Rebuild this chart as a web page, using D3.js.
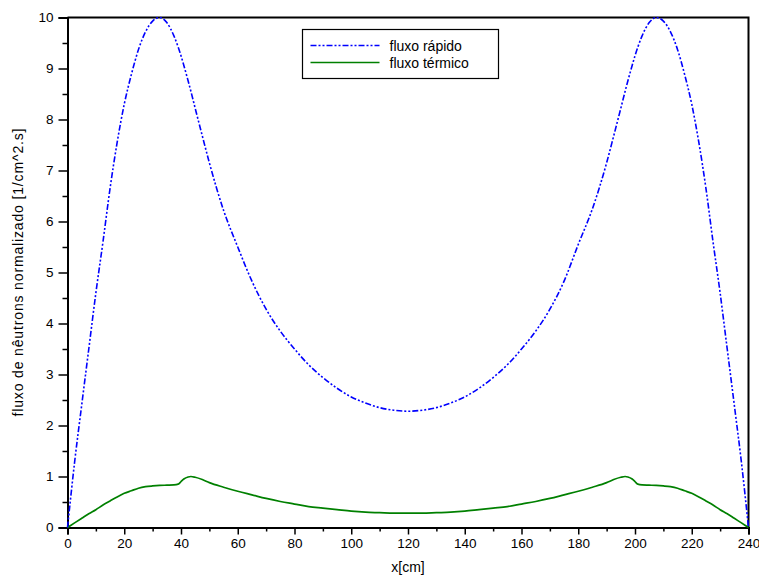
<!DOCTYPE html>
<html>
<head>
<meta charset="utf-8">
<script src="https://cdn.jsdelivr.net/npm/d3@7"></script>
<style>
  body { margin: 0; background: #fff; }
  svg { display: block; font-family: Arial, "Liberation Sans", sans-serif; }
</style>
</head>
<body>
<svg id="chart" width="759" height="579"></svg>
<script>
// positions along the core [cm]
const xs = [0, 2.5, 5, 7.5, 10, 12.5, 15, 17.5, 20, 22.5, 25, 27.5, 30, 32.5, 35, 37.5, 39, 40, 41, 42.5, 43.5, 45, 47.5, 50,
  55, 60, 65, 70, 75, 80, 85, 90, 95, 100, 105, 110, 115, 120,
  125, 130, 135, 140, 145, 150, 155, 160, 165, 170, 175, 180, 185,
  190, 192.5, 195, 196.5, 197.5, 199, 200, 201, 202.5, 205, 207.5, 210, 212.5, 215, 217.5, 220, 222.5, 225, 227.5, 230, 232.5, 235, 237.5, 240]

const fastFlux = [0, 1.28, 2.4, 3.5, 4.6, 5.6, 6.65, 7.55, 8.3, 8.88, 9.37, 9.72, 9.93, 10, 9.9, 9.64, 9.42, 9.25, 9.06, 8.76, 8.55, 8.22, 7.68, 7.15,
  6.22, 5.5, 4.83, 4.28, 3.85, 3.5, 3.19, 2.94, 2.73, 2.56, 2.44, 2.35, 2.3, 2.28,
  2.3, 2.35, 2.44, 2.56, 2.73, 2.94, 3.19, 3.5, 3.85, 4.28, 4.83, 5.55, 6.25,
  7.15, 7.68, 8.22, 8.55, 8.76, 9.06, 9.25, 9.42, 9.64, 9.9, 10, 9.93, 9.72, 9.37, 8.88, 8.3, 7.55, 6.65, 5.6, 4.6, 3.5, 2.4, 1.28, 0]

const thermalFlux = [0, 0.09, 0.18, 0.27, 0.35, 0.44, 0.52, 0.6, 0.67, 0.72, 0.77, 0.8, 0.815, 0.825, 0.83, 0.835, 0.85, 0.9, 0.95, 0.99, 1.0, 0.985, 0.94, 0.88,
  0.79, 0.71, 0.64, 0.57, 0.51, 0.46, 0.41, 0.38, 0.35, 0.32, 0.3, 0.29, 0.28, 0.28,
  0.28, 0.29, 0.3, 0.32, 0.35, 0.38, 0.41, 0.46, 0.51, 0.57, 0.64, 0.71, 0.79,
  0.88, 0.94, 0.985, 1.0, 0.99, 0.95, 0.9, 0.85, 0.835, 0.83, 0.825, 0.815, 0.8, 0.77, 0.72, 0.67, 0.6, 0.52, 0.44, 0.35, 0.27, 0.18, 0.09, 0]

const xTicks = [0, 20, 40, 60, 80, 100, 120, 140, 160, 180, 200, 220, 240]
const yTicks = [0, 1, 2, 3, 4, 5, 6, 7, 8, 9, 10]
const seriesNames = ['fluxo rápido', 'fluxo térmico']

const svg = d3.select('#chart')
const plot = {left: 67.5, right: 748.5, top: 17.5, bottom: 527.5}

const x = d3.scaleLinear().domain([0, 240]).range([plot.left, plot.right])
const y = d3.scaleLinear().domain([0, 10]).range([plot.bottom, plot.top])

// frame: top and right edges
svg.append('path')
  .attr('d', `M${plot.left},${plot.top}H${plot.right}V${plot.bottom}`)
  .attr('fill', 'none')
  .attr('stroke', '#000')
  .attr('stroke-width', 2)

// minor ticks halfway between the labelled ones
const xMinor = d3.range(10, 240, 20)
const yMinor = d3.range(0.5, 10, 1)

const gx = svg.append('g').attr('transform', `translate(0,${plot.bottom})`)
gx.call(d3.axisBottom(x).tickValues(xMinor).tickSize(4).tickFormat(''))
gx.selectAll('.tick line').attr('stroke-width', 1.5)
const gx2 = svg.append('g').attr('transform', `translate(0,${plot.bottom})`)
gx2.call(d3.axisBottom(x).tickValues(xTicks).tickSize(7).tickPadding(4).tickFormat(d3.format('d')))
gx2.selectAll('.tick line').attr('stroke-width', 1.5)
gx2.selectAll('text').attr('font-size', 13.5).attr('fill', '#000')

const gy = svg.append('g').attr('transform', `translate(${plot.left},0)`)
gy.call(d3.axisLeft(y).tickValues(yMinor).tickSize(5).tickFormat(''))
gy.selectAll('.tick line').attr('stroke-width', 1.5)
const gy2 = svg.append('g').attr('transform', `translate(${plot.left},0)`)
gy2.call(d3.axisLeft(y).tickValues(yTicks).tickSize(9).tickPadding(5).tickFormat(d3.format('d')))
gy2.selectAll('.tick line').attr('stroke-width', 1.5)
gy2.selectAll('text').attr('font-size', 13.5).attr('fill', '#000')
svg.selectAll('.domain').attr('stroke', '#000').attr('stroke-width', 2)

// curves
const line = (vals) => d3.line()
  .x((d, i) => x(xs[i]))
  .y(d => y(d))
  .curve(d3.curveMonotoneX)(vals)

svg.append('path')
  .attr('d', line(thermalFlux))
  .attr('fill', 'none')
  .attr('stroke', '#008000')
  .attr('stroke-width', 1.7)

svg.append('path')
  .attr('d', line(fastFlux))
  .attr('fill', 'none')
  .attr('stroke', '#0000ff')
  .attr('stroke-width', 1.6)
  .attr('stroke-dasharray', '6,2,2,2,2,2')

// axis titles
svg.append('text')
  .attr('x', (plot.left + plot.right) / 2)
  .attr('y', 572)
  .attr('text-anchor', 'middle')
  .attr('font-size', 14)
  .text('x[cm]')

svg.append('text')
  .attr('transform', `translate(23,${(plot.top + plot.bottom) / 2}) rotate(-90)`)
  .attr('text-anchor', 'middle')
  .attr('font-size', 14)
  .attr('textLength', 288)
  .attr('lengthAdjust', 'spacing')
  .text('fluxo de nêutrons normalizado [1/cm^2.s]')

// legend
const legend = svg.append('g').attr('transform', 'translate(302.5,29.5)')
legend.append('rect')
  .attr('width', 196)
  .attr('height', 49)
  .attr('fill', '#fff')
  .attr('stroke', '#000')
  .attr('stroke-width', 1.2)

const legendStyles = [
  {color: '#0000ff', dash: '6,2,2,2,2,2'},
  {color: '#008000', dash: null},
]
seriesNames.forEach((name, i) => {
  const ly = 16 + i * 17
  legend.append('line')
    .attr('x1', 8).attr('x2', 77)
    .attr('y1', ly).attr('y2', ly)
    .attr('stroke', legendStyles[i].color)
    .attr('stroke-width', 1.6)
    .attr('stroke-dasharray', legendStyles[i].dash)
  legend.append('text')
    .attr('x', 87)
    .attr('y', ly + 5)
    .attr('font-size', 14)
    .text(name)
})
</script>
</body>
</html>
